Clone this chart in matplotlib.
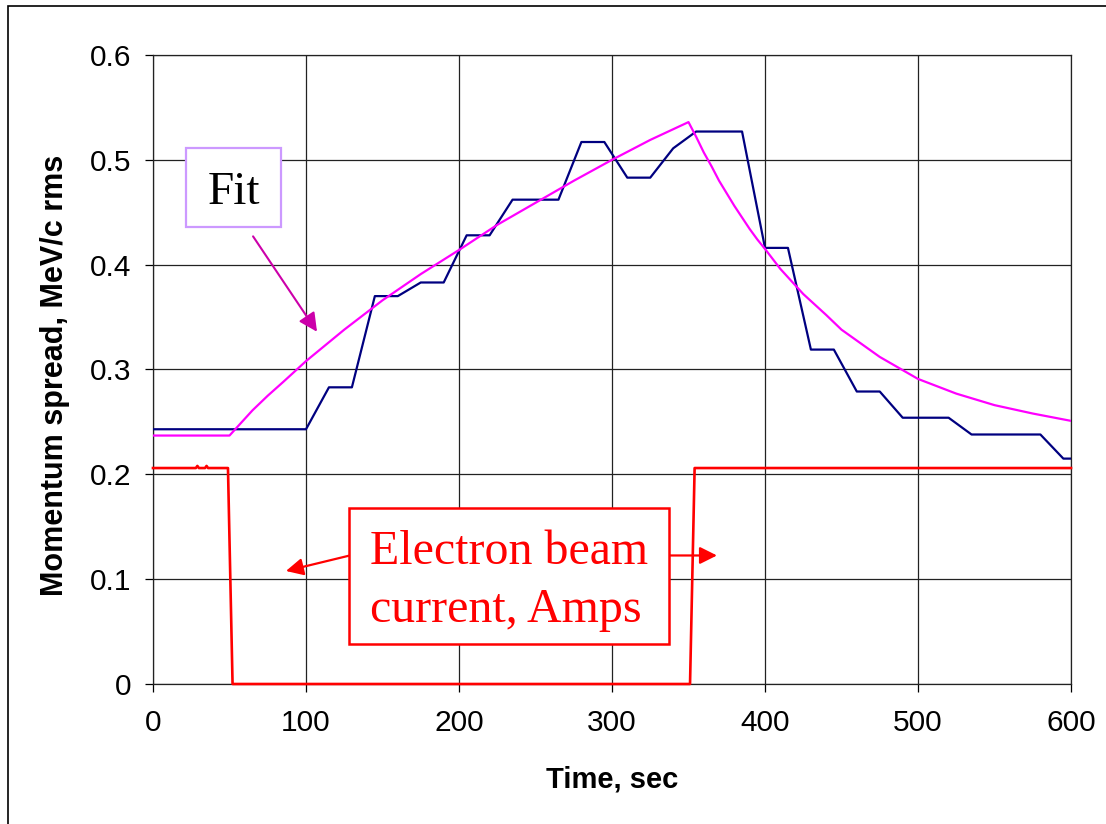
import matplotlib
matplotlib.use("Agg")
import matplotlib.pyplot as plt
from matplotlib.patches import Rectangle

# ---------------- data ----------------
blue_t = [0, 100, 115, 130, 145, 160, 175, 190, 205, 220, 235, 265, 280, 295,
          310, 325, 340, 355, 385, 400, 415, 430, 445, 460, 475, 490, 520, 535,
          580, 595, 600]
blue_v = [0.243, 0.243, 0.283, 0.283, 0.370, 0.370, 0.383, 0.383, 0.428, 0.428,
          0.462, 0.462, 0.517, 0.517, 0.483, 0.483, 0.511, 0.527, 0.527, 0.416,
          0.416, 0.319, 0.319, 0.279, 0.279, 0.254, 0.254, 0.238, 0.238, 0.215,
          0.215]

fit_t = [0, 50, 55, 60, 65, 70, 75, 85, 100, 125, 150, 175, 200, 225, 250, 275,
         300, 325, 350, 355, 360, 365, 370, 375, 380, 385, 390, 395, 400, 410,
         425, 440, 450, 475, 500, 525, 550, 575, 600]
fit_v = [0.237, 0.237, 0.245, 0.253, 0.261, 0.268, 0.275, 0.288, 0.308, 0.338,
         0.366, 0.391, 0.414, 0.438, 0.459, 0.480, 0.500, 0.519, 0.536, 0.522,
         0.507, 0.494, 0.480, 0.468, 0.456, 0.445, 0.434, 0.424, 0.415, 0.396,
         0.372, 0.352, 0.338, 0.312, 0.291, 0.277, 0.266, 0.258, 0.251]

red_t = [0, 28, 29, 30, 34, 35, 36, 49, 52, 351, 354, 600]
red_v = [0.206, 0.206, 0.208, 0.206, 0.206, 0.208, 0.206, 0.206, 0.0, 0.0,
         0.206, 0.206]

x_ticks = [0, 100, 200, 300, 400, 500, 600]
y_ticks = [0.0, 0.1, 0.2, 0.3, 0.4, 0.5, 0.6]
y_tick_labels = ["0", "0.1", "0.2", "0.3", "0.4", "0.5", "0.6"]

# ---------------- figure ----------------
W, H = 1106, 824
fig = plt.figure(figsize=(W / 100, H / 100), dpi=100)
fig.patch.set_facecolor("white")

def fx(px):
    return px / W

def fy(py):
    return 1 - py / H

ax = fig.add_axes([fx(153), fy(684), fx(1071) - fx(153), fy(55) - fy(684)])
ax.set_xlim(0, 600)
ax.set_ylim(0, 0.6)
ax.set_axisbelow(True)

sans = "Liberation Sans"
serif = "Liberation Serif"

ax.set_xticks(x_ticks)
ax.set_xticklabels([str(v) for v in x_ticks], fontsize=21.5, family=sans)
ax.set_yticks(y_ticks)
ax.set_yticklabels(y_tick_labels, fontsize=21.5, family=sans)
ax.tick_params(axis="x", direction="out", length=5.8, width=0.9, pad=12.5,
               colors="black")
ax.tick_params(axis="y", direction="out", length=5.8, width=0.9, pad=10,
               colors="black")
ax.grid(True, color="#222222", linewidth=0.9)
for s in ax.spines.values():
    s.set_color("#222222")
    s.set_linewidth(0.9)

ax.plot(blue_t, blue_v, color="#000080", lw=1.6, zorder=3)
ax.plot(fit_t, fit_v, color="#FF00FF", lw=1.6, zorder=4)
ax.plot(red_t, red_v, color="#FF0000", lw=1.9, zorder=3, clip_on=False)

# axis labels
fig.text(fx(612), fy(788), "Time, sec", ha="center", va="baseline",
         fontsize=21, fontweight="bold", family=sans)
fig.text(fx(55), fy(375), "Momentum spread, MeV/c rms", ha="center",
         va="center", rotation=90, fontsize=22, fontweight="bold", family=sans)

# ---------------- annotations ----------------
# Fit box
fig.add_artist(Rectangle((fx(186), fy(227)), fx(281) - fx(186),
                         fy(148) - fy(227), transform=fig.transFigure,
                         facecolor="white", edgecolor="#CC99FF", lw=1.6,
                         zorder=5))
fig.text(fx(233.5), fy(204), "Fit", ha="center", va="baseline",
         fontsize=34, family=serif, color="black", zorder=6)
ax.annotate("", xy=(107.2, 0.336), xytext=(65.4, 0.427),
            arrowprops=dict(arrowstyle="-|>", color="#CC00AA", lw=1.5,
                            mutation_scale=28, shrinkA=0, shrinkB=0),
            zorder=6)

# Electron beam box
fig.add_artist(Rectangle((fx(349), fy(644)), fx(669) - fx(349),
                         fy(508) - fy(644), transform=fig.transFigure,
                         facecolor="white", edgecolor="#FF0000", lw=1.8,
                         zorder=5))
fig.text(fx(370), fy(564), "Electron beam", ha="left", va="baseline",
         fontsize=34.5, family=serif, color="#FF0000", zorder=6)
fig.text(fx(370), fy(621.7), "current, Amps", ha="left", va="baseline",
         fontsize=34.5, family=serif, color="#FF0000", zorder=6)
ax.annotate("", xy=(86.9, 0.1078), xytext=(128.1, 0.1224),
            arrowprops=dict(arrowstyle="-|>", color="#FF0000", lw=1.6,
                            mutation_scale=26, shrinkA=0, shrinkB=0),
            zorder=6)
ax.annotate("", xy=(368.6, 0.1226), xytext=(337.3, 0.1226),
            arrowprops=dict(arrowstyle="-|>", color="#FF0000", lw=1.6,
                            mutation_scale=26, shrinkA=0, shrinkB=0),
            zorder=6)

# outer frame
fig.add_artist(Rectangle((fx(8), -0.2), 1.5, fy(6) + 0.2,
                         transform=fig.transFigure, fill=False,
                         edgecolor="black", lw=1.2))

fig.savefig("out.png", dpi=100)
